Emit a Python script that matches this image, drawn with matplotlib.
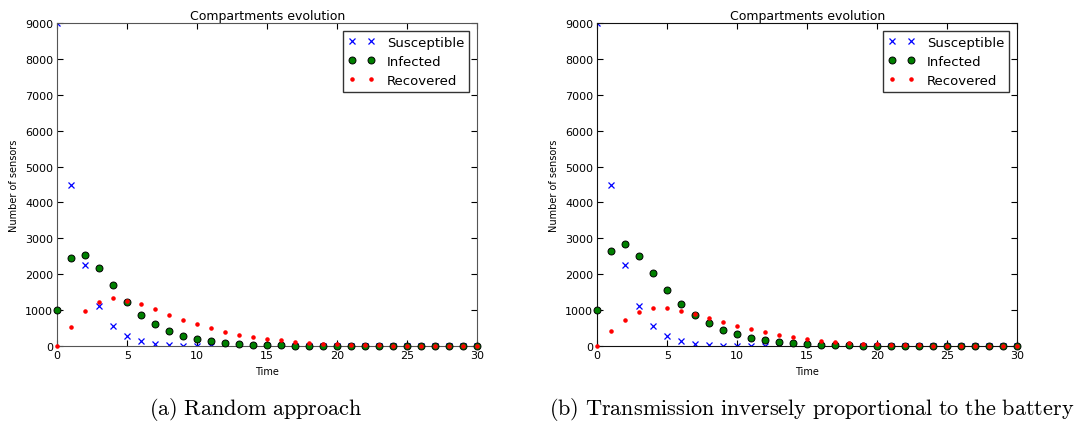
import numpy as np
import matplotlib
matplotlib.use('Agg')
import matplotlib.pyplot as plt

plt.rcParams['mathtext.fontset'] = 'cm'

time = list(range(31))

susceptible = [9000, 4500, 2250, 1130, 560, 275, 130, 65, 32, 16, 8, 4, 2, 1, 0,
               0, 0, 0, 0, 0, 0, 0, 0, 0, 0, 0, 0, 0, 0, 0, 0]

infected_a = [1000, 2450, 2550, 2170, 1690, 1240, 880, 610, 430, 290, 200, 140, 100, 65, 45,
              32, 22, 15, 10, 7, 5, 3, 2, 1, 1, 0, 0, 0, 0, 0, 0]
recovered_a = [0, 530, 990, 1240, 1330, 1270, 1180, 1040, 880, 730, 610, 500, 400, 320, 260,
               205, 165, 125, 95, 72, 54, 40, 30, 22, 16, 12, 8, 6, 4, 3, 2]

infected_b = [1000, 2650, 2850, 2510, 2030, 1550, 1180, 860, 635, 460, 330, 240, 170, 120, 85,
              60, 42, 30, 21, 15, 10, 7, 5, 3, 2, 1, 1, 0, 0, 0, 0]
recovered_b = [0, 410, 740, 960, 1070, 1070, 990, 900, 780, 670, 565, 475, 395, 320, 255,
               200, 155, 115, 85, 62, 47, 35, 26, 19, 14, 10, 7, 5, 4, 3, 2]

captions = ['(a) Random approach',
            '(b) Transmission inversely proportional to the battery']

fig = plt.figure(figsize=(10.8, 4.27), dpi=100)
ax_a = fig.add_axes([0.053, 0.187, 0.389, 0.757])
ax_b = fig.add_axes([0.553, 0.187, 0.389, 0.757])

# caption centres (figure fraction), as in the subfigure layout
panels = [(ax_a, infected_a, recovered_a, captions[0], '#555555', 0.237),
          (ax_b, infected_b, recovered_b, captions[1], '#111111', 0.752)]

for ax, inf, rec, cap, spine_col, cap_x in panels:
    ax.plot(time, susceptible, 'x', color='blue', markersize=4.5, markeredgewidth=0.9,
            label='Susceptible')
    ax.plot(time, inf, 'o', color='green', markeredgecolor='black', markersize=5,
            markeredgewidth=0.7, label='Infected', clip_on=False, zorder=3)
    ax.plot(time, rec, '.', color='red', markersize=4.5, label='Recovered',
            clip_on=False, zorder=4)
    ax.set_xlim(0, 30)
    ax.set_ylim(0, 9000)
    ax.set_xticks(np.arange(0, 31, 5))
    ax.set_yticks(np.arange(0, 9001, 1000))
    ax.tick_params(direction='in', top=True, right=True, labelsize=8, length=4,
                   width=0.8, pad=3)
    for s in ax.spines.values():
        s.set_color(spine_col)
    ax.set_title('Compartments evolution', fontsize=9, pad=3)
    ax.set_xlabel('Time', fontsize=7, labelpad=4)
    ax.set_ylabel('Number of sensors', fontsize=7, labelpad=4)
    leg = ax.legend(loc='upper right', numpoints=2, fontsize=9.5, fancybox=False,
                    framealpha=1, borderaxespad=0.6, handlelength=2.0,
                    handletextpad=0.9, labelspacing=0.45, borderpad=0.4)
    leg.get_frame().set_edgecolor('#333333')
    fig.text(cap_x, 0.04, '$\\mathrm{' + cap.replace(' ', '\\ ') + '}$',
             ha='center', va='center', fontsize=16)

fig.savefig('out.png', dpi=100)
